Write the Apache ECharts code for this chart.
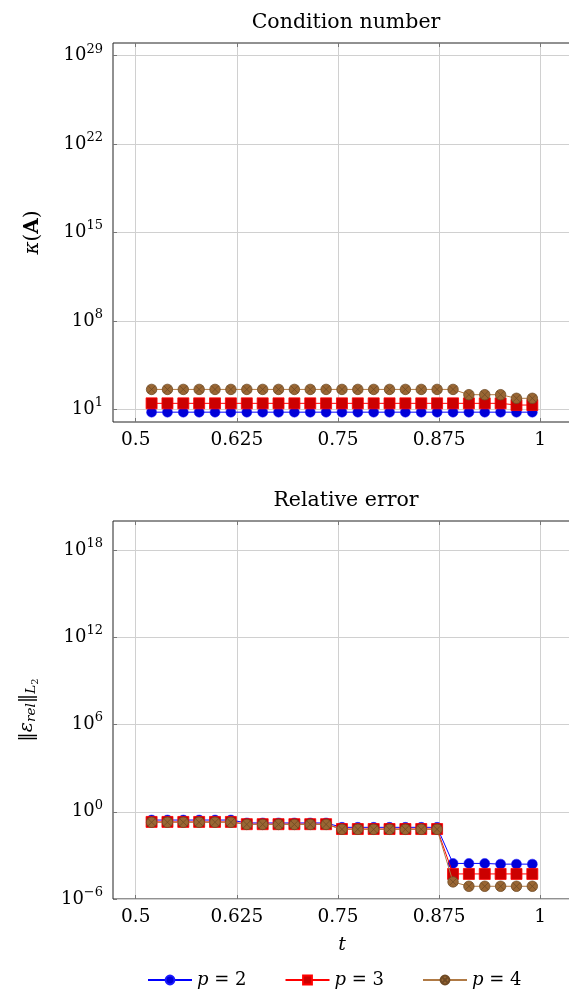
<!DOCTYPE html>
<html>
<head>
<meta charset="utf-8">
<script src="https://cdn.jsdelivr.net/npm/echarts@6/dist/echarts.min.js"></script>
<style>html,body{margin:0;padding:0;background:#fff;}#c{width:569px;height:992px;}</style>
</head>
<body>
<div id="c"></div>
<script>
// ---- data ----
const tValues = [0.5196, 0.5392, 0.5588, 0.5784, 0.5980, 0.6176, 0.6373, 0.6569, 0.6765, 0.6961,
  0.7157, 0.7353, 0.7549, 0.7745, 0.7941, 0.8137, 0.8333, 0.8529, 0.8725, 0.8922,
  0.9118, 0.9314, 0.9510, 0.9706, 0.9902];
const condP2 = [6,6,6,6,6,6,6,6,6,6,6,6,6,6,6,6,6,6,6,6,6,6,6,6,6];
const condP3 = [30,30,30,30,30,30,30,30,30,30,30,30,30,30,30,30,30,30,30,30,30,30,30,22,22];
const condP4 = [380,380,380,380,380,380,380,380,380,380,380,380,380,380,380,380,380,380,380,380,145,145,145,75,75];
const errP2 = [0.27,0.27,0.27,0.27,0.27,0.27,0.17,0.17,0.17,0.17,0.17,0.17,0.085,0.085,0.085,0.085,0.085,0.085,0.085,2.8e-4,2.8e-4,2.8e-4,2.5e-4,2.5e-4,2.5e-4];
const errP3 = [0.2,0.2,0.2,0.2,0.2,0.2,0.14,0.14,0.14,0.14,0.14,0.14,0.065,0.065,0.065,0.065,0.065,0.065,0.065,5.3e-5,5.3e-5,5.3e-5,5.3e-5,5.3e-5,5.3e-5];
const errP4 = [0.19,0.19,0.19,0.19,0.19,0.19,0.135,0.135,0.135,0.135,0.135,0.135,0.062,0.062,0.062,0.062,0.062,0.062,0.062,1.5e-5,7.5e-6,7.5e-6,7.5e-6,7.5e-6,7.5e-6];
const xTicks = [0.5, 0.625, 0.75, 0.875, 1];
const condTicks = [1e1, 1e8, 1e15, 1e22, 1e29];
const errTicks = [1e-6, 1e0, 1e6, 1e12, 1e18];
const seriesNames = ['p = 2', 'p = 3', 'p = 4'];
const titles = ['Condition number', 'Relative error'];

// ---- styling ----
const FONT = 'DejaVu Serif';
const supRich = {
  b: {fontFamily: FONT, fontSize: 18, color: '#000'},
  sup: {fontFamily: FONT, fontSize: 13, color: '#000', padding: [0, 0, 13, 0]}
};
function powLabel(v) {
  const e = Math.round(Math.log10(v));
  return '{b|10}{sup|' + String(e).replace('-', '\u2212') + '}';
}
const otimes = 'path://M0,10A10,10,0,1,1,20,10A10,10,0,1,1,0,10ZM2.93,2.93L17.07,17.07M17.07,2.93L2.93,17.07';
const styles = [
  {line: '#0000ff', fill: '#0000d8', border: '#1a1aff', symbol: 'circle', size: 10, bw: 0.5},
  {line: '#ff0000', fill: '#cc0000', border: '#ff0000', symbol: 'rect', size: 11, bw: 0.8},
  {line: '#b07a45', fill: '#996633', border: '#6e4a25', symbol: otimes, size: 10.5, bw: 0.8}
];

const grids = [
  {left: 113, top: 43, width: 458, height: 379, outerBoundsMode: 'none', containLabel: false,
   show: true, borderColor: '#222', borderWidth: 1, backgroundColor: 'transparent'},
  {left: 113, top: 521, width: 458, height: 378, outerBoundsMode: 'none', containLabel: false,
   show: true, borderColor: '#222', borderWidth: 1, backgroundColor: 'transparent'}
];
const X_MIN = 0.4719, X_MAX = 1.038;

function xAx(gi, showName) {
  return {
    type: 'value', gridIndex: gi, min: X_MIN, max: X_MAX,
    axisLine: {show: false},
    axisTick: {show: true, inside: true, length: 4, lineStyle: {color: '#777'}, customValues: xTicks},
    axisLabel: {customValues: xTicks, fontFamily: FONT, fontSize: 18.5, color: '#000', margin: 9,
      formatter: v => String(v)},
    splitLine: {show: true, lineStyle: {color: '#d0d0d0', width: 1}},
    name: showName ? 't' : '',
    nameLocation: 'middle', nameGap: 37,
    nameTextStyle: {fontFamily: FONT, fontStyle: 'italic', fontSize: 19, color: '#000'}
  };
}
function xAxTop(gi) {
  return {
    type: 'value', gridIndex: gi, min: X_MIN, max: X_MAX, position: 'top',
    axisLine: {show: false},
    axisTick: {show: true, inside: true, length: 4, lineStyle: {color: '#777'}, customValues: xTicks},
    axisLabel: {show: false}, splitLine: {show: false}
  };
}
function yAx(gi, min, max, ticks, name, rich, gap) {
  return {
    type: 'log', logBase: 10, gridIndex: gi, min: min, max: max,
    axisLine: {show: false},
    axisTick: {show: true, inside: true, length: 4, lineStyle: {color: '#777'}, customValues: ticks},
    axisLabel: {customValues: ticks, formatter: powLabel, rich: supRich, margin: 10},
    splitLine: {show: true, lineStyle: {color: '#d0d0d0', width: 1}},
    minorTick: {show: false}, minorSplitLine: {show: false},
    name: name, nameLocation: 'middle', nameGap: gap,
    nameTextStyle: {rich: rich}
  };
}

const kappaRich = {
  i: {fontFamily: FONT, fontStyle: 'italic', fontSize: 20, color: '#000'},
  n: {fontFamily: FONT, fontSize: 20, color: '#000'},
  b: {fontFamily: FONT, fontWeight: 'bold', fontSize: 20, color: '#000'}
};
const errRich = {
  n: {fontFamily: FONT, fontSize: 19, color: '#000'},
  i: {fontFamily: FONT, fontStyle: 'italic', fontSize: 19, color: '#000'},
  sub: {fontFamily: FONT, fontStyle: 'italic', fontSize: 13.5, color: '#000', padding: [9, 0, 0, 0]},
  subsub: {fontFamily: FONT, fontSize: 10, color: '#000', padding: [16, 0, 0, 0]}
};

const condData = [condP2, condP3, condP4];
const errData = [errP2, errP3, errP4];
const series = [];
[condData, errData].forEach((set, gi) => {
  set.forEach((vals, k) => {
    const s = styles[k];
    series.push({
      type: 'line', name: seriesNames[k], xAxisIndex: gi * 2, yAxisIndex: gi,
      data: tValues.map((t, i) => [t, vals[i]]),
      symbol: s.symbol, symbolSize: s.size, showAllSymbol: true,
      lineStyle: {color: s.line, width: 1},
      itemStyle: {color: s.fill, borderColor: s.border, borderWidth: s.bw},
      emphasis: {disabled: true}, animation: false, z: 2 + k
    });
  });
});

const chart = echarts.init(document.getElementById('c'), null, {renderer: 'canvas'});
chart.setOption({
  backgroundColor: '#fff',
  animation: false,
  title: [
    {text: titles[0], left: 341, top: 7, textAlign: 'center', textStyle: {fontFamily: FONT, fontWeight: 'normal', fontSize: 20.5, color: '#000'}},
    {text: titles[1], left: 341, top: 485, textAlign: 'center', textStyle: {fontFamily: FONT, fontWeight: 'normal', fontSize: 20.5, color: '#000'}}
  ],
  grid: grids,
  xAxis: [xAx(0, false), xAxTop(0), xAx(1, true), xAxTop(1)],
  yAxis: [
    yAx(0, 1, 1e30, condTicks, '{i|\u03ba}{n|(}{b|A}{n|)}', kappaRich, 70),
    yAx(1, 1e-6, 1e20, errTicks, '{n|\u2016}{i|\u03b5}{sub|rel}{n|\u2016}{sub|L}{subsub|2}', errRich, 73)
  ],
  legend: {
    data: seriesNames, left: 142, top: 966, itemWidth: 44, itemHeight: 11, itemGap: 38,
    formatter: n => '{i|p}{n| = ' + n.split('= ')[1] + '}',
    textStyle: {rich: {
      i: {fontFamily: FONT, fontStyle: 'italic', fontSize: 18, color: '#000'},
      n: {fontFamily: FONT, fontSize: 18, color: '#000'}
    }}
  },
  series: series
});
</script>
</body>
</html>
